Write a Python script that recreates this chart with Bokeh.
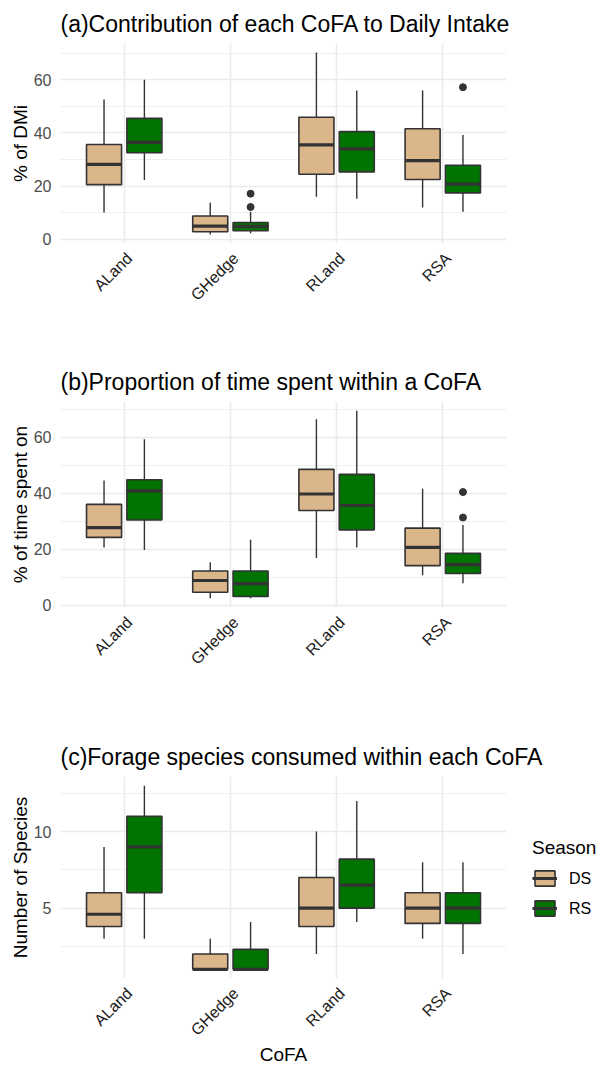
import numpy as np
from math import pi
from bokeh.plotting import figure
from bokeh.models import FixedTicker, Legend, LegendItem, ColumnDataSource, Range1d
from bokeh.layouts import column
from bokeh.embed import file_html
from bokeh.resources import INLINE

categories = ["ALand", "GHedge", "RLand", "RSA"]
seasons = ["DS", "RS"]
season_colors = {"DS": "#DBB68B", "RS": "#007300"}

# ---- Panel (a): % of DMi ----
a_ds_low = [10.1, 1.9, 16.0, 12.0]
a_ds_q1 = [20.6, 2.9, 24.5, 22.5]
a_ds_med = [28.2, 5.0, 35.5, 29.6]
a_ds_q3 = [35.7, 8.8, 45.9, 41.6]
a_ds_high = [52.6, 13.8, 70.2, 56.0]
a_rs_low = [22.3, 2.3, 15.3, 10.4]
a_rs_q1 = [32.6, 3.3, 25.4, 17.5]
a_rs_med = [36.5, 4.9, 34.0, 20.8]
a_rs_q3 = [45.5, 6.4, 40.5, 27.9]
a_rs_high = [60.0, 10.4, 56.0, 39.2]
a_out_cat = ["GHedge", "GHedge", "RSA"]
a_out_season = ["RS", "RS", "RS"]
a_out_val = [17.2, 12.2, 57.2]

# ---- Panel (b): % of time spent on ----
b_ds_low = [20.6, 2.5, 16.8, 10.7]
b_ds_q1 = [24.2, 4.6, 33.8, 14.1]
b_ds_med = [27.7, 8.8, 39.7, 20.6]
b_ds_q3 = [36.0, 12.2, 48.5, 27.5]
b_ds_high = [44.5, 15.3, 66.4, 41.6]
b_rs_low = [19.7, 2.5, 20.6, 7.8]
b_rs_q1 = [30.4, 3.1, 26.9, 11.3]
b_rs_med = [40.8, 7.7, 35.6, 14.5]
b_rs_q3 = [44.8, 12.2, 46.7, 18.5]
b_rs_high = [59.3, 23.4, 69.4, 28.6]
b_out_cat = ["RSA", "RSA"]
b_out_season = ["RS", "RS"]
b_out_val = [40.4, 31.3]

# ---- Panel (c): Number of species ----
c_ds_low = [3.0, 1.0, 2.0, 3.0]
c_ds_q1 = [3.8, 1.0, 3.8, 4.0]
c_ds_med = [4.6, 1.0, 5.0, 5.0]
c_ds_q3 = [6.0, 2.0, 7.0, 6.0]
c_ds_high = [9.0, 3.0, 10.0, 8.0]
c_rs_low = [3.0, 1.0, 4.1, 2.0]
c_rs_q1 = [6.0, 1.0, 5.0, 4.0]
c_rs_med = [9.0, 1.0, 6.5, 5.0]
c_rs_q3 = [11.0, 2.3, 8.2, 6.0]
c_rs_high = [13.0, 4.1, 12.0, 8.0]
c_out_cat = []
c_out_season = []
c_out_val = []

a_ticks = [0, 20, 40, 60]
a_minor = [10, 30, 50, 70]
b_ticks = [0, 20, 40, 60]
b_minor = [10, 30, 50, 70]
c_ticks = [5, 10]
c_minor = [2.5, 7.5, 12.5]

FONT = "Liberation Sans"
BOX_W = 0.33
DODGE = {"DS": -0.19, "RS": 0.19}
LABEL_SHIFT = 0.05   # rotated tick labels sit slightly right of the tick (hjust=1 look)
EDGE = "#333333"


def make_panel(title, ylabel, stats, outliers, ticks, minor, top, frame_h, bottom,
               xlabel=None, legend=False):
    right = 94 if legend else 20
    allv = [v for s in stats.values() for arr in s for v in arr] + list(outliers[2])
    lo, hi = min(allv), max(allv)
    ex = 0.05 * (hi - lo)
    p = figure(frame_width=446, frame_height=frame_h,
               output_backend="svg", toolbar_location=None,
               x_range=Range1d(0.4, 4.6), y_range=Range1d(lo - ex, hi + ex),
               min_border_left=60, min_border_right=right,
               min_border_top=top, min_border_bottom=bottom)

    p.outline_line_color = None
    p.background_fill_color = "white"
    p.border_fill_color = "white"

    label_pos = [round(i + 1 + LABEL_SHIFT, 2) for i in range(len(categories))]
    p.xaxis.ticker = FixedTicker(ticks=label_pos)
    p.xaxis.major_label_overrides = {lp: c for lp, c in zip(label_pos, categories)}
    p.xaxis.major_label_orientation = pi / 4
    p.xaxis.major_label_text_font = FONT
    p.xaxis.major_label_text_font_size = "16px"
    p.xaxis.major_label_text_color = "#1A1A1A"
    p.xaxis.major_label_standoff = 12
    p.yaxis.ticker = FixedTicker(ticks=ticks, minor_ticks=minor)
    p.yaxis.major_label_text_font = FONT
    p.yaxis.major_label_text_font_size = "16px"
    p.yaxis.major_label_text_color = "#4D4D4D"
    p.yaxis.major_label_standoff = 5
    for ax in (p.xaxis, p.yaxis):
        ax.axis_line_color = None
        ax.major_tick_line_color = None
        ax.minor_tick_line_color = None
        ax.major_tick_out = 0
        ax.major_tick_in = 0
        ax.axis_label_text_font = FONT
        ax.axis_label_text_font_size = "19px"
        ax.axis_label_text_font_style = "normal"
        ax.axis_label_text_color = "black"
    p.yaxis.axis_label = ylabel
    p.yaxis.axis_label_standoff = 0
    if xlabel:
        p.xaxis.axis_label = xlabel
        p.xaxis.axis_label_standoff = -4

    p.xgrid.ticker = FixedTicker(ticks=list(range(1, len(categories) + 1)))
    p.xgrid.grid_line_color = "#EBEBEB"
    p.xgrid.grid_line_width = 1.6
    p.ygrid.grid_line_color = "#EBEBEB"
    p.ygrid.grid_line_width = 1.6
    p.ygrid.minor_grid_line_color = "#EFEFEF"
    p.ygrid.minor_grid_line_width = 1.0

    p.title.text = title
    p.title.text_font = FONT
    p.title.text_font_size = "23px"
    p.title.text_font_style = "normal"
    p.title.text_color = "black"
    p.title.align = "left"
    p.title.standoff = 13

    items = []
    xs_base = np.arange(1, len(categories) + 1, dtype=float)
    for s in seasons:
        low, q1, med, q3, high = stats[s]
        x = xs_base + DODGE[s]
        src = ColumnDataSource(dict(x=x, x0=x - BOX_W / 2, x1=x + BOX_W / 2,
                                    low=low, q1=q1, med=med, q3=q3, high=high))
        p.segment(x0="x", y0="q3", x1="x", y1="high", source=src,
                  line_color=EDGE, line_width=1.4)
        p.segment(x0="x", y0="low", x1="x", y1="q1", source=src,
                  line_color=EDGE, line_width=1.4)
        box = p.vbar(x="x", width=BOX_W, top="q3", bottom="q1", source=src,
                     fill_color=season_colors[s], line_color=EDGE, line_width=1.6)
        medr = p.segment(x0="x0", y0="med", x1="x1", y1="med", source=src,
                         line_color=EDGE, line_width=3.2)
        items.append(LegendItem(label=s, renderers=[box, medr]))

    oc, os_, ov = outliers
    if len(ov):
        ox = [categories.index(c) + 1 + DODGE[s] for c, s in zip(oc, os_)]
        p.scatter(x=ox, y=list(ov), size=7, color=EDGE)

    if legend:
        lg = Legend(items=items, location="center_left", title="Season")
        lg.title_text_font = FONT
        lg.title_text_font_size = "19px"
        lg.title_text_font_style = "normal"
        lg.title_text_color = "black"
        lg.title_standoff = 10
        lg.label_text_font = FONT
        lg.label_text_font_size = "16px"
        lg.label_text_color = "black"
        lg.label_standoff = 12
        lg.glyph_width = 25
        lg.glyph_height = 19
        lg.spacing = 11
        lg.margin = 26
        lg.padding = 2
        lg.border_line_color = None
        lg.background_fill_alpha = 0
        p.add_layout(lg, "right")
    return p


pa = make_panel("(a)Contribution of each CoFA to Daily Intake", "% of DMi",
                {"DS": [a_ds_low, a_ds_q1, a_ds_med, a_ds_q3, a_ds_high],
                 "RS": [a_rs_low, a_rs_q1, a_rs_med, a_rs_q3, a_rs_high]},
                (a_out_cat, a_out_season, a_out_val), a_ticks, a_minor,
                top=43, frame_h=200, bottom=107)
pb = make_panel("(b)Proportion of time spent within a CoFA", "% of time spent on",
                {"DS": [b_ds_low, b_ds_q1, b_ds_med, b_ds_q3, b_ds_high],
                 "RS": [b_rs_low, b_rs_q1, b_rs_med, b_rs_q3, b_rs_high]},
                (b_out_cat, b_out_season, b_out_val), b_ticks, b_minor,
                top=51, frame_h=206, bottom=116)
pc = make_panel("(c)Forage species consumed within each CoFA", "Number of Species",
                {"DS": [c_ds_low, c_ds_q1, c_ds_med, c_ds_q3, c_ds_high],
                 "RS": [c_rs_low, c_rs_q1, c_rs_med, c_rs_q3, c_rs_high]},
                (c_out_cat, c_out_season, c_out_val), c_ticks, c_minor,
                top=53, frame_h=202, bottom=89, xlabel="CoFA", legend=True)

layout = column(pa, pb, pc)
open("out.html", "w").write(file_html(layout, INLINE))
